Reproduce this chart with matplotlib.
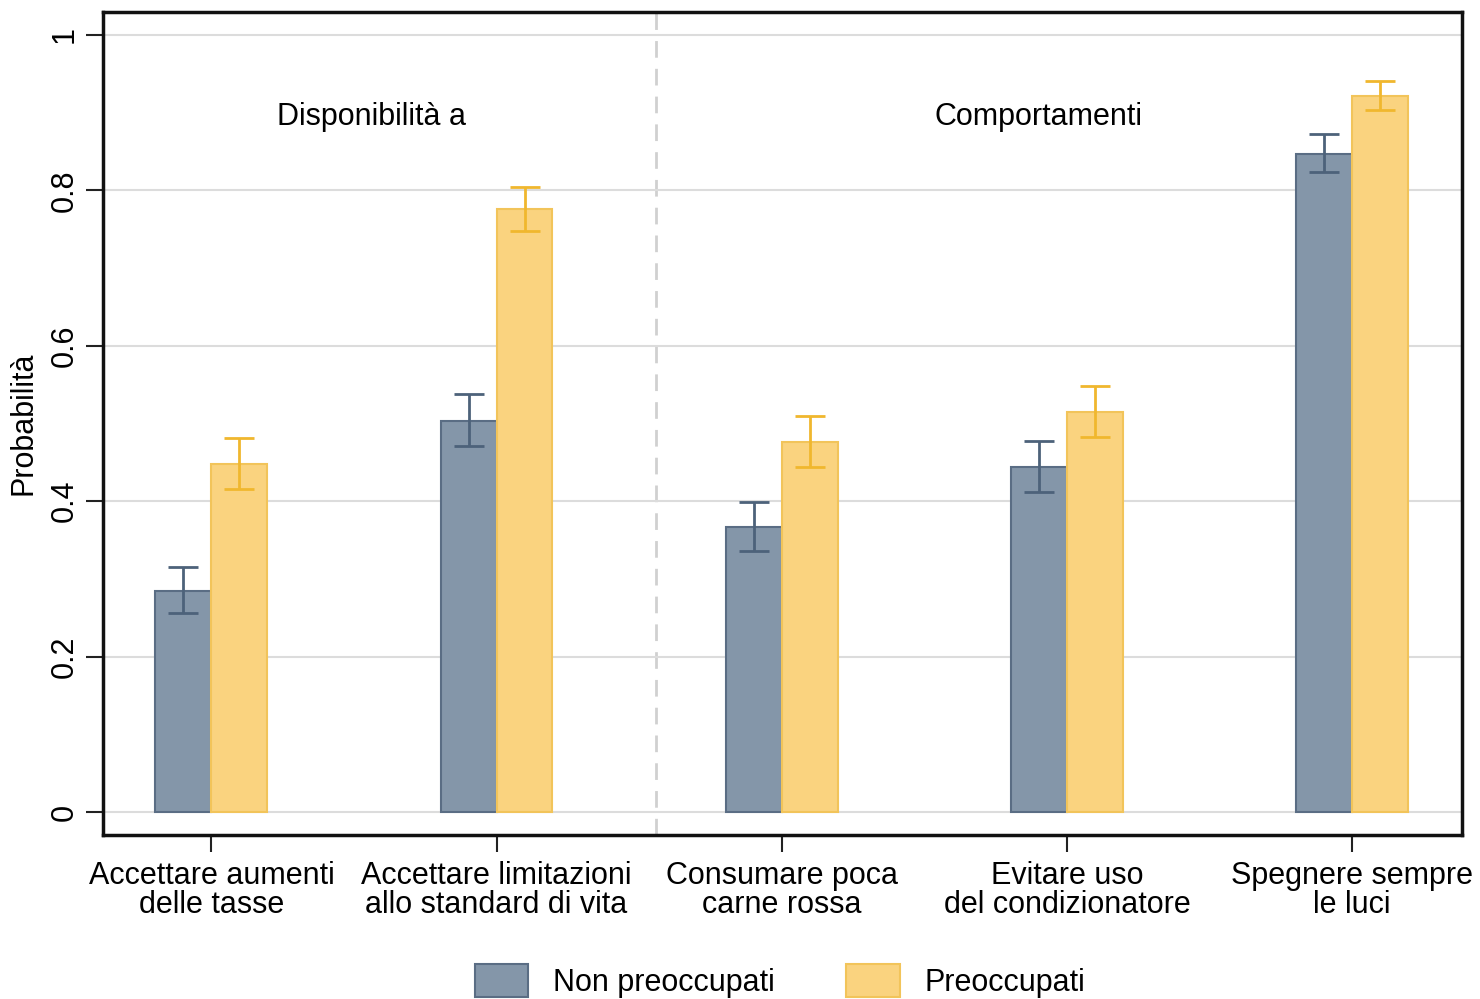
import numpy as np
import matplotlib.pyplot as plt
from matplotlib.patches import Patch

plt.rcParams['font.family'] = ['Liberation Sans', 'DejaVu Sans']

# --- data ---
categories = ["Accettare aumenti\ndelle tasse",
              "Accettare limitazioni\nallo standard di vita",
              "Consumare poca\ncarne rossa",
              "Evitare uso\ndel condizionatore",
              "Spegnere sempre\nle luci"]
non_preocc = [0.285, 0.503, 0.367, 0.444, 0.847]
non_lo = [0.256, 0.471, 0.336, 0.412, 0.824]
non_hi = [0.315, 0.538, 0.399, 0.477, 0.873]
preocc = [0.448, 0.776, 0.476, 0.515, 0.921]
pre_lo = [0.416, 0.748, 0.444, 0.483, 0.903]
pre_hi = [0.481, 0.804, 0.510, 0.548, 0.941]
yticks = [0, 0.2, 0.4, 0.6, 0.8, 1]
ytick_labels = ["0", "0.2", "0.4", "0.6", "0.8", "1"]

c_non, e_non, err_non = "#8496a9", "#5a6d84", "#4d627a"
c_pre, e_pre, err_pre = "#fad37f", "#f2c45a", "#f0b72e"
fs = 22

fig = plt.figure(figsize=(14.8, 9.99), dpi=100)
ax = fig.add_axes([103/1480, 1 - 835/999, 1359/1480, 823/999])

x = np.arange(len(categories))
w = 0.196
ax.bar(x - w/2, non_preocc, w, color=c_non, edgecolor=e_non, linewidth=1.5, zorder=3)
ax.bar(x + w/2, preocc, w, color=c_pre, edgecolor=e_pre, linewidth=1.5, zorder=3)

for xs, v, lo, hi, col in [(x - w/2, non_preocc, non_lo, non_hi, err_non),
                           (x + w/2, preocc, pre_lo, pre_hi, err_pre)]:
    v = np.array(v)
    yerr = [v - np.array(lo), np.array(hi) - v]
    ax.errorbar(xs, v, yerr=yerr, fmt='none', ecolor=col, elinewidth=2,
                capsize=11, capthick=2, zorder=4)

ax.set_xlim(-0.38, 4.385)
ax.set_ylim(-0.0296, 1.0296)
ax.set_yticks(yticks)
ax.set_yticklabels(ytick_labels, rotation=90, va='center', fontsize=fs)
ax.set_xticks(x)
ax.set_xticklabels(categories, fontsize=fs, linespacing=0.95)
ax.tick_params(axis='both', length=12, width=1.5, color='#222222')
ax.tick_params(axis='x', pad=7)
ax.tick_params(axis='y', pad=5)
ax.set_ylabel("Probabilità", fontsize=fs, labelpad=8)

ax.grid(axis='y', color='#dcdcdc', linewidth=1.5, zorder=0)
for s in ax.spines.values():
    s.set_linewidth(2.5)
    s.set_color('#111111')

# dashed separator between the two groups of items
ax.axvline(1.56, color='#d0d0d0', linestyle=(0, (6, 4)), linewidth=2, zorder=1)

ax.text(0.56, 0.894, "Disponibilità a", ha='center', va='center', fontsize=fs)
ax.text(2.9, 0.894, "Comportamenti", ha='center', va='center', fontsize=fs)

handles = [Patch(facecolor=c_non, edgecolor=e_non, linewidth=1.5, label="Non preoccupati"),
           Patch(facecolor=c_pre, edgecolor=e_pre, linewidth=1.5, label="Preoccupati")]
fig.legend(handles=handles, loc='center', bbox_to_anchor=(0.527, 1 - 981/999), ncol=2,
           frameon=False, fontsize=fs, handlelength=1.75, handleheight=1.25,
           columnspacing=2.35, handletextpad=0.8)

fig.savefig("out.png", dpi=100, facecolor='white')
